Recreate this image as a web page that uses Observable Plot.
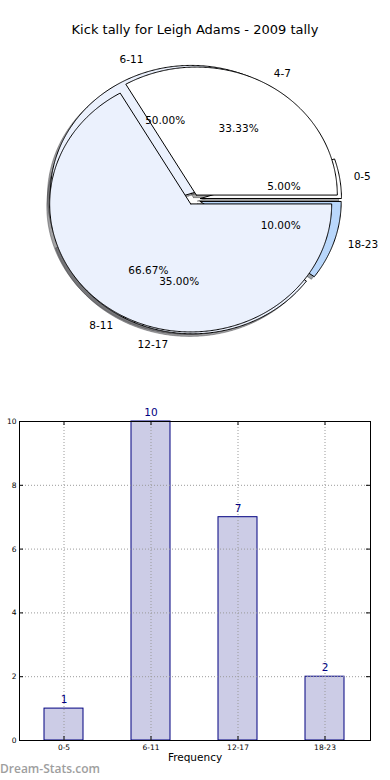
<!DOCTYPE html>
<html><head><meta charset="utf-8">
<script src="https://cdn.jsdelivr.net/npm/d3@7"></script>
<script src="https://cdn.jsdelivr.net/npm/@observablehq/plot@0.6"></script>
<style>
body{margin:0;background:#fff;}
#wrap{position:relative;width:390px;height:780px;overflow:hidden;font-family:"DejaVu Sans",sans-serif;background:#fff;}
#title{position:absolute;left:0;width:390px;top:22px;text-align:center;font-size:13px;line-height:16px;color:#000;}
#pie{position:absolute;left:0;top:0;}
#bar{position:absolute;left:0;top:390px;}
#mark{position:absolute;left:0;top:761px;font-family:"Open Sans",sans-serif;font-size:12px;line-height:16px;font-weight:600;color:#9e9e9e;white-space:nowrap;}
</style></head>
<body>
<div id="wrap"><div id="pie"></div><div id="title"></div><div id="bar"></div><div id="mark"></div></div>
<script>
// ---- data ----
const chartTitle = "Kick tally for Leigh Adams - 2009 tally";
const ageGroups = ["0-5", "6-11", "12-17", "18-23"];
const kickCounts = [1, 10, 7, 2];
const overlayGroups = ["4-7", "8-11"];
const overlayCounts = [1, 2];
const yTicks = [0, 2, 4, 6, 8, 10];
const xAxisLabel = "Frequency";
const watermark = "Dream-Stats.com";

// ---- styles ----
const pie1Colors = ["#ffffff", "#ebf1fd", "#ebf1fd", "#b9d7fb"];
const pie2Colors = ["#ffffff", "#ebf1fd"];
const explode1 = 0.05, explode2 = 0.04;
const FONT = "DejaVu Sans";

document.getElementById("title").textContent = chartTitle;
document.getElementById("mark").textContent = watermark;

function buildWedges(labels, values, explode, colors) {
  const total = d3.sum(values);
  let cum = 0;
  return labels.map((label, i) => {
    const a0 = cum / total * 2 * Math.PI;
    cum += values[i];
    const a1 = cum / total * 2 * Math.PI;
    const mid = (a0 + a1) / 2;
    const ox = explode * Math.cos(mid), oy = explode * Math.sin(mid);
    const n = Math.max(2, Math.ceil((a1 - a0) / (Math.PI / 360)));
    const pts = [[ox, oy]];
    for (let k = 0; k <= n; k++) {
      const t = a0 + (a1 - a0) * k / n;
      pts.push([ox + Math.cos(t), oy + Math.sin(t)]);
    }
    pts.push([ox, oy]);
    return {
      label, color: colors[i], pts,
      lx: ox + 1.1 * Math.cos(mid), ly: oy + 1.1 * Math.sin(mid),
      px: ox + 0.6 * Math.cos(mid), py: oy + 0.6 * Math.sin(mid),
      pct: (values[i] / total * 100).toFixed(2) + "%",
      side: Math.cos(mid) > 0 ? "start" : "end"
    };
  });
}
function shadowOf(hex) {
  const c = d3.rgb(hex);
  return d3.rgb(c.r * 0.3, c.g * 0.3, c.b * 0.3).formatHex();
}

const w1 = buildWedges(ageGroups, kickCounts, explode1, pie1Colors);
const w2 = buildWedges(overlayGroups, overlayCounts, explode2, pie2Colors);
const all = [...w1, ...w2];

const pieMarks = [];
for (const w of all) {
  pieMarks.push(Plot.line(w.pts, {x: d => d[0] - 0.02, y: d => d[1] - 0.02,
    fill: shadowOf(w.color), fillOpacity: 0.5, stroke: shadowOf(w.color), strokeOpacity: 0.5, strokeWidth: 1}));
}
for (const w of all) {
  pieMarks.push(Plot.line(w.pts, {x: d => d[0], y: d => d[1], fill: w.color, stroke: "black", strokeWidth: 1, strokeLinejoin: "miter"}));
}
pieMarks.push(Plot.text(all.filter(w => w.side === "start"), {x: "lx", y: "ly", text: "label", textAnchor: "start", fontSize: 10.5, fill: "black"}));
pieMarks.push(Plot.text(all.filter(w => w.side === "end"), {x: "lx", y: "ly", text: "label", textAnchor: "end", fontSize: 10.5, fill: "black"}));
pieMarks.push(Plot.text(all, {x: "px", y: "py", text: "pct", textAnchor: "middle", fontSize: 10.5, fill: "black"}));

const pie = Plot.plot({
  width: 390, height: 390, margin: 0,
  style: {fontFamily: FONT, background: "transparent"},
  x: {domain: [-1, 1], range: [52, 334], axis: null},
  y: {domain: [-1, 1], range: [327, 71], axis: null},
  marks: pieMarks
});
document.getElementById("pie").appendChild(pie);

// ---- bar chart ----
const barData = ageGroups.map((g, i) => ({group: g, count: kickCounts[i]}));
const frameW = 351, frameH = 319;
const bar = Plot.plot({
  width: 390, height: 390,
  marginTop: 31, marginBottom: 40, marginLeft: 19, marginRight: 20,
  style: {fontFamily: FONT, fontSize: "7.5px", background: "white", color: "black"},
  x: {domain: ageGroups, paddingInner: 0.55, paddingOuter: 0.275, label: null},
  y: {domain: [0, 10], label: null},
  marks: [
    Plot.barY(barData, {x: "group", y: "count", fill: "#000080", fillOpacity: 0.2}),
    Plot.barY(barData, {x: "group", y: "count", fill: "none", stroke: "#000080", strokeWidth: 1}),
    Plot.gridY(yTicks, {stroke: "#9a9a9a", strokeOpacity: 1, strokeDasharray: "1,2", strokeWidth: 1}),
    Plot.gridX(ageGroups, {stroke: "#9a9a9a", strokeOpacity: 1, strokeDasharray: "1,2", strokeWidth: 1}),
    Plot.tickY(yTicks, {y: d => d, insetRight: frameW - 4, stroke: "black"}),
    Plot.tickY(yTicks, {y: d => d, insetLeft: frameW - 4, stroke: "black"}),
    Plot.tickX(ageGroups, {x: d => d, insetTop: frameH - 4, stroke: "black"}),
    Plot.tickX(ageGroups, {x: d => d, insetBottom: frameH - 4, stroke: "black"}),
    Plot.frame({stroke: "black", strokeWidth: 1}),
    Plot.axisY(yTicks, {tickSize: 0, tickPadding: 3, fontSize: 7.5}),
    Plot.axisX({tickSize: 0, tickPadding: 4, label: null, fontSize: 7.5}),
    Plot.text(barData, {x: "group", y: "count", text: d => String(d.count), dy: -9, fill: "#000080", fontSize: 10.5}),
    Plot.text([xAxisLabel], {frameAnchor: "bottom", text: d => d, dy: 20, fontSize: 10.5, fill: "black"})
  ]
});
document.getElementById("bar").appendChild(bar);
</script>
</body></html>
